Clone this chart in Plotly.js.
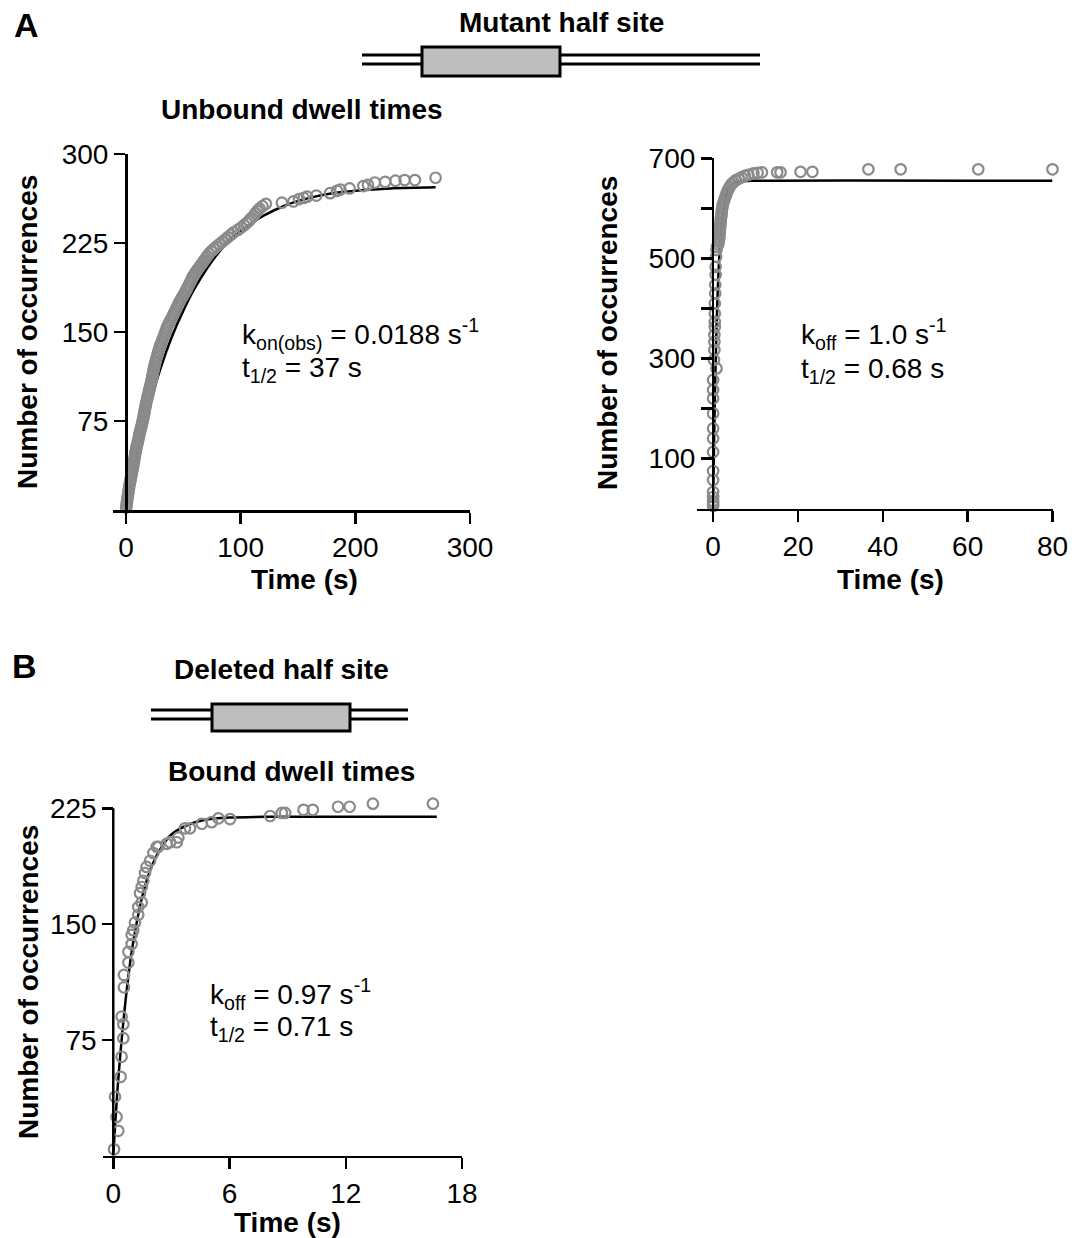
<!DOCTYPE html>
<html>
<head>
<meta charset="utf-8">
<script src="https://cdn.plot.ly/plotly-3.0.1.min.js"></script>
<style>html,body{margin:0;padding:0;background:#fff;}</style>
</head>
<body>
<div id="chart" style="width:1083px;height:1238px;"></div>
<script>
// ---------- Data ----------
// Panel A, left: Unbound dwell times (cumulative occurrences vs time, s)
const unboundT = [0.2,0.5,0.8,1.0,1.3,1.6,2.0,2.3,2.6,2.9,3.3,3.7,4.1,4.5,4.9,5.3,5.7,6.1,6.4,6.8,7.2,7.5,7.9,8.2,8.6,9.1,9.5,10.0,10.5,10.9,11.4,11.8,12.3,12.8,13.4,13.9,14.3,14.8,15.2,15.7,16.0,16.4,16.8,17.2,17.6,18.1,18.6,19.1,19.6,20.1,20.6,21.1,21.6,22.0,22.5,22.9,23.3,23.7,24.1,24.5,25.0,25.5,26.1,26.7,27.3,27.9,28.5,29.1,29.7,30.5,31.3,32.0,32.8,33.6,34.4,35.1,35.8,36.8,37.8,38.9,40.0,41.0,42.0,43.0,44.0,45.0,46.0,47.0,48.2,49.5,50.7,51.9,53.0,54.0,55.0,56.0,57.0,58.0,59.2,60.5,62.0,63.5,65.0,66.5,68.0,69.5,71.0,72.5,74.5,76.5,79.0,81.5,84.0,86.5,89.0,91.5,94.0,97.5,100.5,103.0,105.5,107.5,109.5,111.5,113.0,114.5,116.5,119.0,122.0,136,146,151,155,158,166,178,184,187,195,207,211,217,226,235,243,252,270];
const unboundN = [2,4,6,8,10,12,14,16,18,20,22,24,26,28,30,32,34,36,38,40,42,44,46,48,50,52,54,56,58,60,62,64,66,68,70,72,74,76,78,80,82,84,86,88,90,92,94,96,98,100,102,104,106,108,110,112,114,116,118,120,122,124,126,128,130,132,134,136,138,140,142,144,146,148,150,152,154,156,158,160,162,164,166,168,170,172,174,176,178,180,182,184,186,188,190,192,194,196,198,200,202,204,206,208,210,212,214,216,218,220,222,224,226,228,230,232,234,236,238,240,242,244,246,248,250,252,254,256,258,259,260,262,263,264,265,267,269,270,271,273,274,276,276.5,277.5,278,278,280];
const unboundFitT = [0,5,10,20,30,40,50,60,80,100,120,140,160,180,200,230,270];
const unboundFitN = [0,25,47,86,119,146,168,187,216,235,248,257,263,267,269,271,272];

// Panel A, right: Bound dwell times, mutant half site
const boundAT = [0,0,0,0,0,0,0,0,0,0,0,0,0,0,0.8,0.2,0.3,0.3,0.3,0.4,0.4,0.4,0.4,0.5,0.5,0.6,0.6,0.7,0.8,0.9,1.2,1.3,1.4,1.5,1.5,1.6,1.6,1.7,1.7,1.8,1.8,1.9,2.0,2.0,2.1,2.2,2.3,2.5,2.7,2.9,3.1,3.3,3.6,3.9,4.3,4.8,5.3,6.0,6.7,7.5,8.3,9.5,10.5,11.5,15.1,15.9,20.6,23.4,36.6,44.2,62.5,80];
const boundAN = [5,10,15,23,33,57,75,113,140,160,190,220,237,257,280,297,317,333,347,363,373,390,410,430,447,467,483,503,517,523,528,533,538,543,548,553,558,563,568,573,578,583,588,593,598,603,608,613,618,623,628,633,638,643,648,652,656,659,662,665,667,670,671,672,672,672,673,673,678,678,678,678];
const boundAFitT = [0,0.25,0.5,0.75,1,1.5,2,3,4,5,7,10,80];
const boundAFitN = [0,145,258,345,414,509,566,622,643,651,654,655,655];

// Panel B: Bound dwell times, deleted half site
const boundBT = [0.04,0.26,0.17,0.09,0.38,0.43,0.52,0.52,0.43,0.55,0.55,0.78,0.78,0.95,0.95,1.03,1.12,1.29,1.29,1.47,1.38,1.47,1.55,1.64,1.72,1.9,2.07,2.24,2.33,2.76,2.93,3.28,3.36,3.7,3.96,4.57,5.08,5.43,6.03,8.1,8.7,8.87,9.82,10.3,11.6,12.2,13.4,16.5];
const boundBN = [4,16,25,38,51,64,76,85,90,109,117,125,132,137,143,146,151,156,161,164,170,174,178,183,187,191,196,200,200,202,203,203,206,212,212,215,216,218.5,218,220,222,222,224,224,226,226,228,228];
const boundBFitT = [0,0.25,0.5,0.75,1,1.5,2,2.5,3,4,5,6,8,16.7];
const boundBFitN = [0,48,84,113,136,168,188,200,208,215,218,219,219.5,219.5];

// Tick labels
const ticksA1x = [0,100,200,300];
const ticksA1y = [75,150,225,300];
const ticksA2x = [0,20,40,60,80];
const ticksA2y = [100,200,300,400,500,600,700];
const ticksA2yText = ['100','','300','','500','','700'];
const ticksBx = [0,6,12,18];
const ticksBy = [75,150,225];
const yMaxB = 225;

// ---------- Layout helpers ----------
const W = 1083, H = 1238;
const fx = p => p / W;
const fy = p => 1 - p / H;
const FONT = 'Liberation Sans, Arial, Helvetica, sans-serif';
const FS = 28;
const markerStyle = {symbol: 'circle-open', size: 10.5, color: '#8a8a8a', line: {width: 2.2, color: '#8a8a8a'}};
const fitStyle = {color: '#000', width: 2.5};

const traces = [
  {x: unboundFitT, y: unboundFitN, mode: 'lines', line: Object.assign({shape: 'spline'}, fitStyle), xaxis: 'x', yaxis: 'y', cliponaxis: false},
  {x: unboundT, y: unboundN, mode: 'markers', marker: markerStyle, xaxis: 'x', yaxis: 'y', cliponaxis: false},
  {x: boundAFitT, y: boundAFitN, mode: 'lines', line: Object.assign({shape: 'spline'}, fitStyle), xaxis: 'x2', yaxis: 'y2', cliponaxis: false},
  {x: boundAT, y: boundAN, mode: 'markers', marker: markerStyle, xaxis: 'x2', yaxis: 'y2', cliponaxis: false},
  {x: boundBFitT, y: boundBFitN, mode: 'lines', line: Object.assign({shape: 'spline'}, fitStyle), xaxis: 'x3', yaxis: 'y3', cliponaxis: false},
  {x: boundBT, y: boundBN, mode: 'markers', marker: markerStyle, xaxis: 'x3', yaxis: 'y3', cliponaxis: false}
];

const axisCommon = {
  showgrid: false, zeroline: false, showline: true, linecolor: '#000', linewidth: 2.5,
  ticks: 'outside', ticklen: 11, tickwidth: 2.5, tickcolor: '#000',
  tickfont: {family: FONT, size: FS, color: '#000'}, fixedrange: true
};
const ax = o => Object.assign({}, axisCommon, o);

// Panel B y axis: extend the plotting range a little above the top tick so the
// highest circles (above 225) are drawn; the axis line itself is drawn to 225 only.
const bBottom = 1155.5, bTop225 = 808.3, bTopExt = 790;
const bRangeTop = yMaxB * (bBottom - bTopExt) / (bBottom - bTop225);

const layout = {
  width: W, height: H, autosize: false,
  margin: {l: 0, r: 0, t: 0, b: 0},
  paper_bgcolor: '#fff', plot_bgcolor: 'rgba(0,0,0,0)',
  showlegend: false,
  xaxis:  ax({domain: [fx(113), fx(470)], range: [-11.3, 300], anchor: 'y', tickvals: ticksA1x}),
  yaxis:  ax({domain: [fy(510), fy(154)], range: [0, 300], anchor: 'free', position: fx(126), tickvals: ticksA1y}),
  xaxis2: ax({domain: [fx(697), fx(1052.5)], range: [-3.8, 80], anchor: 'y2', tickvals: ticksA2x}),
  yaxis2: ax({domain: [fy(508.5), fy(158.3)], range: [0, 700], anchor: 'free', position: fx(712.9), tickvals: ticksA2y, ticktext: ticksA2yText}),
  xaxis3: ax({domain: [fx(103), fx(462)], range: [-0.53, 18], anchor: 'y3', tickvals: ticksBx}),
  yaxis3: ax({domain: [fy(bBottom), fy(bTopExt)], range: [0, bRangeTop], anchor: 'free', position: fx(113.3), tickvals: ticksBy, showline: false}),
  shapes: [
    {type: 'line', xref: 'x3', yref: 'y3', x0: 0, x1: 0, y0: 0, y1: yMaxB, line: {color: '#000', width: 2.5}}
  ],
  annotations: []
};

function dna(x0, x1, yl1, yl2, bx0, bx1, by0, by1) {
  layout.shapes.push({type: 'line', xref: 'paper', yref: 'paper', x0: fx(x0), x1: fx(x1), y0: fy(yl1), y1: fy(yl1), line: {color: '#000', width: 3}});
  layout.shapes.push({type: 'line', xref: 'paper', yref: 'paper', x0: fx(x0), x1: fx(x1), y0: fy(yl2), y1: fy(yl2), line: {color: '#000', width: 3}});
  layout.shapes.push({type: 'rect', xref: 'paper', yref: 'paper', x0: fx(bx0), x1: fx(bx1), y0: fy(by1), y1: fy(by0), fillcolor: '#bebebe', line: {color: '#000', width: 3}});
}
dna(362, 760, 55, 64, 422, 560, 47, 76);
dna(151, 408, 710, 719, 212, 350, 704, 731);

function txt(text, x, y, opts) {
  layout.annotations.push(Object.assign({
    text: text, xref: 'paper', yref: 'paper', x: fx(x), y: fy(y),
    xanchor: 'center', yanchor: 'middle', showarrow: false,
    font: {family: FONT, size: FS, color: '#000'}
  }, opts || {}));
}
const bold = s => '<b>' + s + '</b>';
// Panel letters and headings
txt(bold('A'), 26, 25, {font: {family: FONT, size: 34, color: '#000'}});
txt(bold('B'), 24, 666, {font: {family: FONT, size: 34, color: '#000'}});
txt(bold('Mutant half site'), 561, 22);
txt(bold('Deleted half site'), 281, 669);
txt(bold('Unbound dwell times'), 302, 110);
txt(bold('Bound dwell times'), 291, 771);
// Axis titles
txt(bold('Number of occurrences'), 28, 332, {textangle: -90});
txt(bold('Number of occurrences'), 608, 333, {textangle: -90});
txt(bold('Number of occurrences'), 28, 982, {textangle: -90});
txt(bold('Time (s)'), 304, 579);
txt(bold('Time (s)'), 890, 579);
txt(bold('Time (s)'), 287, 1222);
// Rate annotations
txt('k<sub>on(obs)</sub> = 0.0188 s<sup>-1</sup>', 240, 334, {xanchor: 'left'});
txt('t<sub>1/2</sub> = 37 s', 240, 369, {xanchor: 'left'});
txt('k<sub>off</sub> = 1.0 s<sup>-1</sup>', 799, 334, {xanchor: 'left'});
txt('t<sub>1/2</sub> = 0.68 s', 799, 370, {xanchor: 'left'});
txt('k<sub>off</sub> = 0.97 s<sup>-1</sup>', 208, 994, {xanchor: 'left'});
txt('t<sub>1/2</sub> = 0.71 s', 208, 1028, {xanchor: 'left'});

Plotly.newPlot('chart', traces, layout, {staticPlot: true, displayModeBar: false});
</script>
</body>
</html>
